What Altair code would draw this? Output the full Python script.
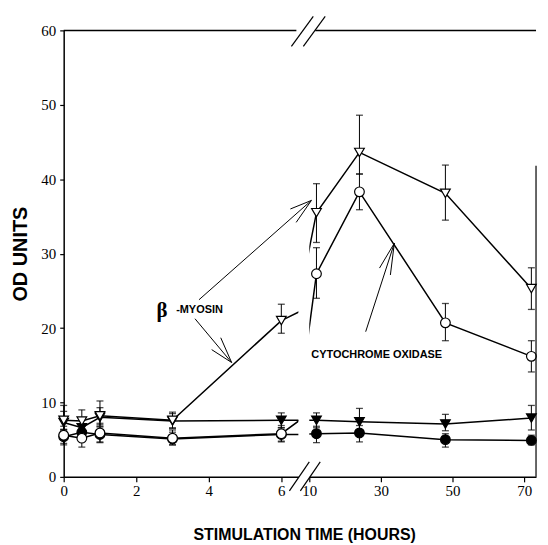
import altair as alt
import pandas as pd

# ---------------- data ----------------
hours = [0, 0.5, 1, 3, 6, 12, 24, 48, 72]

beta_stim = [7.6, 7.5, 8.2, 7.6, 21.0, 35.5, 43.6, 38.1, 25.3]
beta_stim_hi = [9.6, 9.0, 10.2, 8.7, 23.2, 39.4, 48.6, 41.9, 28.1]
beta_stim_lo = [6.3, 6.2, 6.8, 6.6, 19.3, 31.5, 40.7, 34.5, 22.5]

cox_stim = [5.6, 5.2, 5.9, 5.2, 5.8, 27.3, 38.3, 20.7, 16.2]
cox_stim_hi = [6.8, 6.4, 7.2, 6.3, 6.9, 30.8, 40.7, 23.3, 18.3]
cox_stim_lo = [4.3, 4.0, 4.6, 4.3, 4.7, 24.0, 35.9, 18.3, 14.1]

beta_ctrl = [7.3, 6.6, 8.0, 7.5, 7.6, 7.6, 7.4, 7.1, 7.9]
beta_ctrl_hi = [8.8, 7.8, 9.3, 8.5, 8.6, 8.6, 9.2, 8.4, 9.6]
beta_ctrl_lo = [6.3, 5.6, 7.0, 6.5, 6.6, 6.6, 6.2, 6.2, 6.3]

cox_ctrl = [5.4, 6.0, 5.7, 5.1, 5.7, 5.8, 5.9, 5.0, 4.9]
cox_ctrl_hi = [6.4, 7.0, 6.7, 6.0, 6.6, 6.8, 6.9, 5.8, 5.6]
cox_ctrl_lo = [4.5, 5.0, 4.7, 4.3, 4.8, 4.6, 4.7, 4.0, 4.3]

series_names = ["beta_ctrl", "cox_ctrl", "beta_stim", "cox_stim"]
series_shapes = ["triangle-down", "circle", "triangle-down", "circle"]
series_fills = ["black", "black", "white", "white"]

y_ticks = [0, 10, 20, 30, 40, 50, 60]
x_ticks_left = [0, 2, 4, 6]
x_ticks_right = [10, 20, 30, 40, 50, 60, 70]

y_title = "OD UNITS"
x_title = "STIMULATION TIME (HOURS)"
label_beta = "β"
label_myosin = "-MYOSIN"
label_cox = "CYTOCHROME OXIDASE"

# annotation arrows (x, y, x2, y2) in each panel's data units
arrows_left = [
    (3.73, 23.8, 6.83, 37.15), (6.25, 36.0, 6.83, 37.15), (6.41, 34.2, 6.83, 37.15),
    (3.62, 21.25, 4.63, 15.37), (4.08, 17.1, 4.63, 15.37), (4.33, 18.7, 4.63, 15.37),
]
arrows_right = [
    (25.74, 19.51, 33.74, 31.4), (29.6, 28.06, 33.74, 31.4), (32.64, 27.13, 33.74, 31.4),
]

# ---------------- tables ----------------
rows = []
for name, v, hi, lo in [
    ("beta_ctrl", beta_ctrl, beta_ctrl_hi, beta_ctrl_lo),
    ("cox_ctrl", cox_ctrl, cox_ctrl_hi, cox_ctrl_lo),
    ("beta_stim", beta_stim, beta_stim_hi, beta_stim_lo),
    ("cox_stim", cox_stim, cox_stim_hi, cox_stim_lo),
]:
    for h, a, b, c in zip(hours, v, hi, lo):
        rows.append({"hours": h, "value": a, "hi": b, "lo": c, "series": name})
df = pd.DataFrame(rows)

FONT_SANS = "Liberation Sans"
FONT_SERIF = "Liberation Serif"

W1, W2, H = 236, 228, 449
YS = alt.Scale(domain=[0, 60], nice=False, zero=False)


def arrow_df(arrs):
    return pd.DataFrame([{"x": a, "y": b, "x2": c, "y2": d} for a, b, c, d in arrs])


def panel(xmin, xmax, width, ticks, left):
    xs = alt.Scale(domain=[xmin, xmax], nice=False, zero=False)
    xaxis = alt.Axis(values=ticks, title=None, labelFlush=False, labelOverlap=False,
                     tickSize=5, labelPadding=2, grid=False)
    if left:
        yaxis = alt.Axis(values=y_ticks, title=y_title, tickSize=4, labelPadding=4,
                         titlePadding=10, titleFont=FONT_SANS, titleFontSize=20,
                         titleFontWeight="bold", grid=False)
    else:
        yaxis = None
    X = alt.X("hours:Q", scale=xs, axis=xaxis)
    Y = alt.Y("value:Q", scale=YS, axis=yaxis)
    base = alt.Chart(df)
    inside = base.transform_filter(f"datum.hours >= {xmin} && datum.hours <= {xmax}")

    lines = base.mark_line(clip=True, color="black", strokeWidth=1.5).encode(
        x=X, y=Y, detail="series:N", order="hours:Q")
    err = inside.mark_rule(color="black", strokeWidth=1).encode(
        x="hours:Q", y="lo:Q", y2="hi:Q")
    cap_hi = inside.mark_tick(orient="horizontal", size=7, thickness=1.3, color="black").encode(
        x="hours:Q", y="hi:Q")
    cap_lo = inside.mark_tick(orient="horizontal", size=7, thickness=1.3, color="black").encode(
        x="hours:Q", y="lo:Q")
    pts = inside.mark_point(filled=True, size=95, stroke="black", strokeWidth=1.2, opacity=1).encode(
        x="hours:Q", y="value:Q",
        shape=alt.Shape("series:N", scale=alt.Scale(domain=series_names, range=series_shapes), legend=None),
        fill=alt.Fill("series:N", scale=alt.Scale(domain=series_names, range=series_fills), legend=None),
    )
    one = alt.Chart(pd.DataFrame({"k": [0]}))
    layers = [lines, err, cap_hi, cap_lo, pts]
    if left:
        top = one.mark_rule(color="black", strokeWidth=1.5).encode(
            x=alt.value(0), x2=alt.value(width - 2), y=alt.value(0))
        slashes = pd.DataFrame({
            "x": [width - 9, width + 2, width - 7, width + 5],
            "y": [H + 14, H + 14, 16, 16],
            "x2": [width + 11, width + 22, width + 15, width + 27],
            "y2": [H - 15, H - 15, -14, -14],
        })
        sl = alt.Chart(slashes).mark_rule(color="black", strokeWidth=1.2, clip=False).encode(
            x=alt.X("x:Q", scale=None), y=alt.Y("y:Q", scale=None),
            x2="x2:Q", y2="y2:Q")
        arr = alt.Chart(arrow_df(arrows_left)).mark_rule(color="black", strokeWidth=1, clip=False).encode(
            x=alt.X("x:Q", scale=xs), y=alt.Y("y:Q", scale=YS), x2="x2:Q", y2="y2:Q")
        tb = one.mark_text(text=label_beta, font=FONT_SERIF, fontSize=21, fontWeight="bold",
                           align="center", baseline="middle", color="black").encode(
            x=alt.datum(2.71, scale=xs), y=alt.datum(22.3, scale=YS))
        tm = one.mark_text(text=label_myosin, font=FONT_SANS, fontSize=11, fontWeight="bold",
                           align="left", baseline="middle", color="black").encode(
            x=alt.datum(3.10, scale=xs), y=alt.datum(22.4, scale=YS))
        layers += [top, sl, arr, tb, tm]
    else:
        top = one.mark_rule(color="black", strokeWidth=1.5).encode(
            x=alt.value(6), x2=alt.value(width), y=alt.value(0))
        rb = one.mark_rule(color="black", strokeWidth=1.2).encode(
            x=alt.value(width), y=alt.value(136), y2=alt.value(H))
        arr = alt.Chart(arrow_df(arrows_right)).mark_rule(color="black", strokeWidth=1, clip=False).encode(
            x=alt.X("x:Q", scale=xs), y=alt.Y("y:Q", scale=YS), x2="x2:Q", y2="y2:Q")
        tc = one.mark_text(text=label_cox, font=FONT_SANS, fontSize=11, fontWeight="bold",
                           align="left", baseline="middle", color="black").encode(
            x=alt.datum(10.55, scale=xs), y=alt.datum(16.4, scale=YS))
        layers += [top, rb, arr, tc]
    return alt.layer(*layers).properties(width=width, height=H)


left = panel(0, 6.47, W1, x_ticks_left, True)
right = panel(10, 73.3, W2, x_ticks_right, False)

chart = alt.hconcat(left, right, spacing=11, bounds="flush").properties(
    title=alt.TitleParams(x_title, orient="bottom", anchor="middle", font=FONT_SANS,
                          fontSize=16, fontWeight="bold", color="black", offset=28, dx=30),
    padding={"left": 3, "top": 6, "right": 1, "bottom": 2},
).configure_view(stroke=None).configure_axis(
    domainColor="black", domainWidth=1.5, tickColor="black", tickWidth=1.2,
    labelColor="black", titleColor="black", labelFont=FONT_SERIF, labelFontSize=15,
)

chart.save("out.html", embed_options={"renderer": "svg", "actions": False})
